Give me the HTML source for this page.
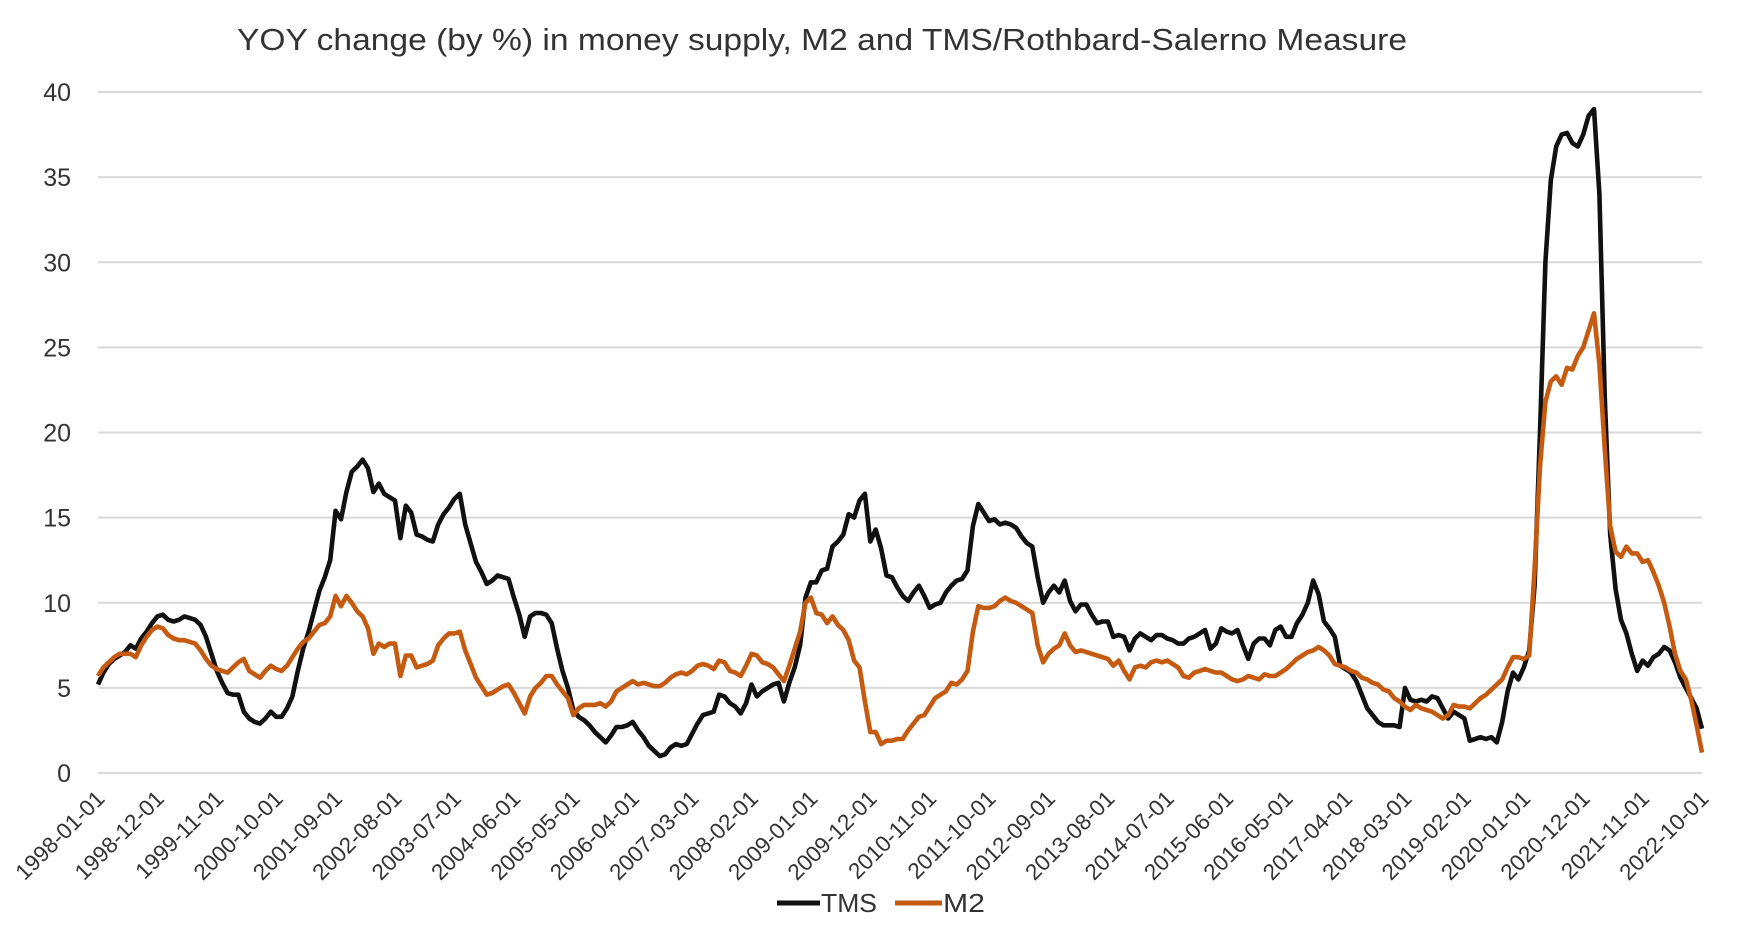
<!DOCTYPE html>
<html><head><meta charset="utf-8"><style>
html,body{margin:0;padding:0;background:#fff;}
svg{display:block;font-family:"Liberation Sans",sans-serif;}
</style></head><body>
<svg id="chart" width="1751" height="942" viewBox="0 0 1751 942" xmlns="http://www.w3.org/2000/svg">
<text x="822" y="50" text-anchor="middle" font-size="31" fill="#333" textLength="1170" lengthAdjust="spacingAndGlyphs">YOY change (by %) in money supply, M2 and TMS/Rothbard-Salerno Measure</text>
<g id="grid"></g>
<g id="yticks"></g>
<g id="xticks"></g>
<g id="series"></g>
<g>
  <g>
    <line x1="777" y1="903" x2="820" y2="903" stroke="#111" stroke-width="5"/>
    <text x="821" y="912" font-size="26" fill="#333" textLength="56" lengthAdjust="spacingAndGlyphs">TMS</text>
  </g>
  <g>
    <line x1="895" y1="903" x2="942" y2="903" stroke="#c55a11" stroke-width="5"/>
    <text x="943" y="912" font-size="26" fill="#333" textLength="42" lengthAdjust="spacingAndGlyphs">M2</text>
  </g>
</g>
</svg>
<script>
const yTicks=[0,5,10,15,20,25,30,35,40];
const xLabels=["1998-01-01","1998-12-01","1999-11-01","2000-10-01","2001-09-01","2002-08-01","2003-07-01","2004-06-01","2005-05-01","2006-04-01","2007-03-01","2008-02-01","2009-01-01","2009-12-01","2010-11-01","2011-10-01","2012-09-01","2013-08-01","2014-07-01","2015-06-01","2016-05-01","2017-04-01","2018-03-01","2019-02-01","2020-01-01","2020-12-01","2021-11-01","2022-10-01"];
const tms=[5.2,5.9,6.4,6.7,6.9,7.1,7.5,7.3,7.9,8.3,8.8,9.2,
9.3,9.0,8.9,9.0,9.2,9.1,9.0,8.7,8.0,7.0,6.0,5.3,
4.7,4.6,4.6,3.6,3.2,3.0,2.9,3.2,3.6,3.3,3.3,3.8,
4.5,6.0,7.3,8.3,9.5,10.7,11.5,12.5,15.4,14.9,16.5,17.7,
18.0,18.4,17.9,16.5,17.0,16.4,16.2,16.0,13.8,15.7,15.3,14.0,
13.9,13.7,13.6,14.6,15.2,15.6,16.1,16.4,14.6,13.5,12.4,11.8,
11.1,11.3,11.6,11.5,11.4,10.3,9.3,8.0,9.2,9.4,9.4,9.3,
8.8,7.3,6.0,5.0,3.7,3.3,3.1,2.8,2.4,2.1,1.8,2.2,
2.7,2.7,2.8,3.0,2.5,2.1,1.6,1.3,1.0,1.1,1.5,1.7,
1.6,1.7,2.3,2.9,3.4,3.5,3.6,4.6,4.5,4.1,3.9,3.5,
4.1,5.2,4.5,4.8,5.0,5.2,5.3,4.2,5.3,6.2,7.5,10.3,
11.2,11.2,11.9,12.0,13.3,13.6,14.0,15.2,15.0,16.0,16.4,13.6,
14.3,13.2,11.6,11.5,10.9,10.4,10.1,10.6,11.0,10.4,9.7,9.9,
10.0,10.6,11.0,11.3,11.4,11.9,14.5,15.8,15.3,14.8,14.9,14.6,
14.7,14.6,14.4,13.9,13.5,13.3,11.5,10.0,10.6,11.0,10.6,11.3,
10.1,9.5,9.9,9.9,9.3,8.8,8.9,8.9,8.0,8.1,8.0,7.2,
7.9,8.2,8.0,7.8,8.1,8.1,7.9,7.8,7.6,7.6,7.9,8.0,
8.2,8.4,7.3,7.6,8.5,8.3,8.2,8.4,7.5,6.7,7.6,7.9,
7.9,7.5,8.4,8.6,8.0,8.0,8.8,9.3,10.0,11.3,10.5,8.9,
8.5,8.0,6.3,6.1,5.9,5.4,4.6,3.8,3.4,3.0,2.8,2.8,
2.8,2.7,5.0,4.3,4.2,4.3,4.2,4.5,4.4,3.8,3.2,3.6,
3.4,3.2,1.9,2.0,2.1,2.0,2.1,1.8,3.0,4.8,5.9,5.5,
6.2,7.2,11.0,20.0,30.0,34.8,36.8,37.5,37.6,37.0,36.8,37.5,
38.6,39.0,34.0,22.0,14.0,10.8,9.0,8.2,7.0,6.0,6.6,6.3,
6.8,7.0,7.4,7.2,6.5,5.6,5.0,4.4,3.8,2.6];
const m2=[5.7,6.2,6.5,6.8,7.0,7.0,7.0,6.8,7.5,8.0,8.4,8.6,
8.5,8.1,7.9,7.8,7.8,7.7,7.6,7.2,6.7,6.3,6.1,6.0,
5.9,6.2,6.5,6.7,6.0,5.8,5.6,6.0,6.3,6.1,6.0,6.3,
6.8,7.3,7.7,7.9,8.3,8.7,8.8,9.2,10.4,9.8,10.4,10.0,
9.5,9.2,8.5,7.0,7.6,7.4,7.6,7.6,5.7,6.9,6.9,6.2,
6.3,6.4,6.6,7.5,7.9,8.2,8.2,8.3,7.2,6.4,5.6,5.1,
4.6,4.7,4.9,5.1,5.2,4.7,4.1,3.5,4.5,5.0,5.3,5.7,
5.7,5.2,4.8,4.4,3.4,3.8,4.0,4.0,4.0,4.1,3.9,4.2,
4.8,5.0,5.2,5.4,5.2,5.3,5.2,5.1,5.1,5.3,5.6,5.8,
5.9,5.8,6.0,6.3,6.4,6.3,6.1,6.6,6.5,6.0,5.9,5.7,
6.3,7.0,6.9,6.5,6.4,6.2,5.8,5.4,6.3,7.3,8.3,10.0,
10.3,9.4,9.3,8.8,9.2,8.7,8.4,7.8,6.6,6.2,4.2,2.4,
2.4,1.7,1.9,1.9,2.0,2.0,2.5,2.9,3.3,3.4,3.9,4.4,
4.6,4.8,5.3,5.2,5.5,6.0,8.3,9.8,9.7,9.7,9.8,10.1,
10.3,10.1,10.0,9.8,9.6,9.4,7.5,6.5,7.0,7.3,7.5,8.2,
7.5,7.1,7.2,7.1,7.0,6.9,6.8,6.7,6.3,6.6,6.0,5.5,
6.2,6.3,6.2,6.5,6.6,6.5,6.6,6.4,6.2,5.7,5.6,5.9,
6.0,6.1,6.0,5.9,5.9,5.7,5.5,5.4,5.5,5.7,5.6,5.5,
5.8,5.7,5.7,5.9,6.1,6.4,6.7,6.9,7.1,7.2,7.4,7.2,
6.9,6.4,6.3,6.2,6.0,5.9,5.6,5.5,5.3,5.2,4.9,4.8,
4.4,4.2,3.9,3.7,4.0,3.8,3.7,3.6,3.4,3.2,3.4,4.0,
3.9,3.9,3.8,4.1,4.4,4.6,4.9,5.2,5.5,6.2,6.8,6.8,
6.7,6.9,12.0,18.0,21.8,23.0,23.3,22.8,23.8,23.7,24.5,25.0,
26.0,27.0,24.0,19.0,14.5,13.0,12.7,13.3,12.9,12.9,12.4,12.5,
11.8,11.0,10.0,8.6,7.0,6.0,5.5,4.3,2.8,1.2];
const NS="http://www.w3.org/2000/svg";
const X0=98,X1=1702,Y0=773,Y40=92,N=tms.length-1;
function xs(i){return X0+(X1-X0)*i/N;}
function ys(v){return Y0+(Y40-Y0)*v/40;}
function mk(t,attrs,parent){const e=document.createElementNS(NS,t);for(const k in attrs)e.setAttribute(k,attrs[k]);parent.appendChild(e);return e;}
const grid=document.getElementById('grid'),yt=document.getElementById('yticks'),xt=document.getElementById('xticks'),ser=document.getElementById('series');
yTicks.forEach(v=>{
  const l=mk('line',{x1:X0,x2:X1,y1:ys(v),y2:ys(v),stroke:'#d9d9d9','stroke-width':2},grid);
  
  
  const t=mk('text',{x:71,y:ys(v)+9,'text-anchor':'end','font-size':25,fill:'#333'},yt);
  t.textContent=v;
  
  
});
xLabels.forEach((s,i)=>{
  const x=xs(i*11)+8,y=800;
  const t=mk('text',{x:x,y:y,'text-anchor':'end','font-size':22.5,fill:'#333',transform:'rotate(-45 '+x+' '+y+')'},xt);
  t.textContent=s;
  
  
});
function path(arr){return arr.map((v,i)=>(i?'L':'M')+xs(i).toFixed(1)+' '+ys(v).toFixed(1)).join(' ');}
const pt=mk('path',{d:path(tms),fill:'none',stroke:'#111','stroke-width':4.6,'stroke-linejoin':'round'},ser);


const pm=mk('path',{d:path(m2),fill:'none',stroke:'#c55a11','stroke-width':4.6,'stroke-linejoin':'round'},ser);


</script>
</body></html>
